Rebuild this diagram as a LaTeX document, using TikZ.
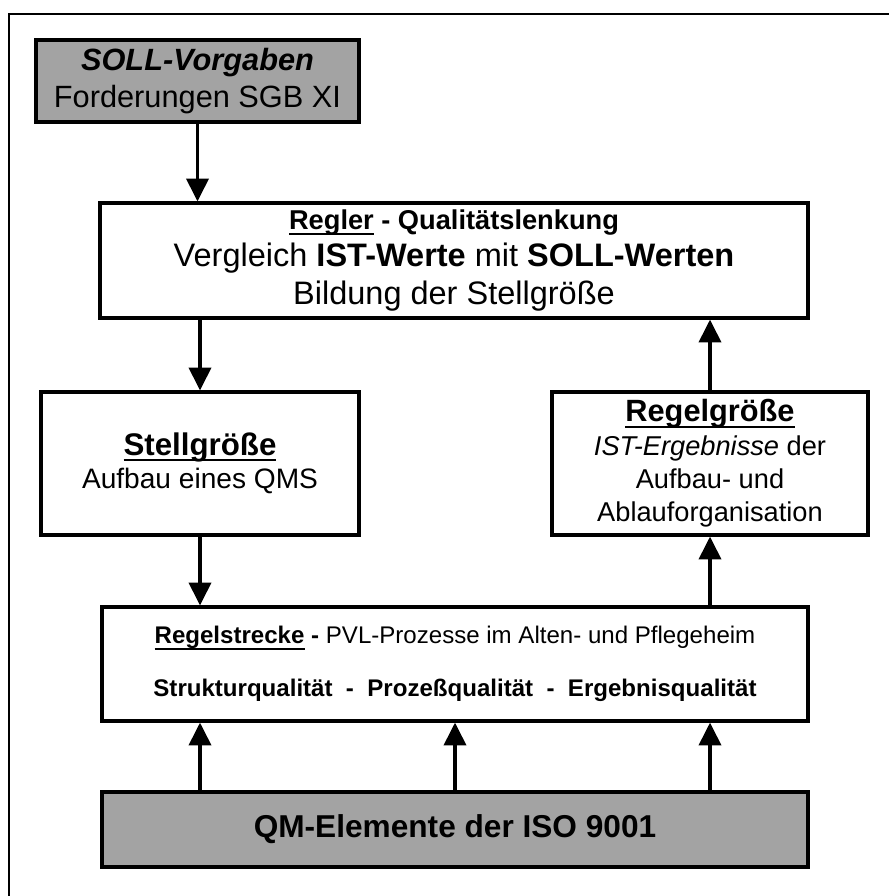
\documentclass[tikz,border=0pt]{standalone}
\usepackage{fontspec}
\setmainfont{Liberation Sans}
\usetikzlibrary{arrows.meta}
% Unterstreichung dicht unter der Grundlinie
\newcommand{\unterstr}[1]{\setbox0=\hbox{#1}\rlap{\rule[-3.4pt]{\wd0}{1.2pt}}\box0\relax}
\begin{document}
\begin{tikzpicture}[x=0.02cm,y=-0.02cm,line width=1.8pt,
	>={Triangle[length=13pt,width=12.5pt]},
	kasten/.style={draw,align=center,inner sep=0pt,font=\fontsize{16}{19}\selectfont},
	grau/.style={kasten,fill=black!36},
	pfeil/.style={->,line width=2.2pt}]
	\useasboundingbox (0,0) rectangle (889,896);
	\draw[line width=0.9pt] (9,896)--(9,14)--(889,14);
	% Kaesten
	\node[grau,minimum width=6.46cm,minimum height=1.64cm,font=\fontsize{17.5}{21}\selectfont] (soll) at (197.5,81)
		{\textbf{\textit{SOLL-Vorgaben}}\\ Forderungen SGB XI};
	\node[kasten,minimum width=14.16cm,minimum height=2.3cm,font=\fontsize{18.5}{21.5}\selectfont] (regler) at (454,260.5)
		{{\fontsize{15.5}{21.5}\selectfont\unterstr{\textbf{Regler}} \textbf{- Qualitätslenkung}}\\ Vergleich \textbf{IST-Werte} mit \textbf{SOLL-Werten}\\ Bildung der Stellgröße};
	\node[kasten,minimum width=6.36cm,minimum height=2.86cm] (stell) at (200,463.5)
		{{\fontsize{17.8}{19}\selectfont\unterstr{\textbf{Stellgröße}}}\\ Aufbau eines QMS};
	\node[kasten,minimum width=6.32cm,minimum height=2.86cm,font=\fontsize{15.5}{19}\selectfont] (regelgr) at (710,463.5)
		{{\fontsize{17.5}{19}\selectfont\unterstr{\textbf{Regelgröße}}}\\ \textit{IST-Ergebnisse} der\\ Aufbau- und\\ Ablauforganisation};
	\node[kasten,minimum width=14.12cm,minimum height=2.28cm,font=\fontsize{13.7}{30}\selectfont] (strecke) at (455,664)
		{\unterstr{\textbf{Regelstrecke}} \textbf{-} PVL-Prozesse im Alten- und Pflegeheim\\ \textbf{Strukturqualität~~-~~Prozeßqualität~~-~~Ergebnisqualität}};
	\node[grau,minimum width=14.12cm,minimum height=1.5cm,font=\fontsize{18}{22}\selectfont\bfseries] (qm) at (455,829.5)
		{QM-Elemente der ISO 9001};
	% Pfeile
	\draw[pfeil] (soll.south) -- (soll.south |- regler.north);
	\draw[pfeil] (regler.south -| stell) -- (stell.north);
	\draw[pfeil] (stell.south) -- (stell.south |- strecke.north);
	\draw[pfeil] (strecke.north -| regelgr) -- (regelgr.south);
	\draw[pfeil] (regelgr.north) -- (regelgr.north |- regler.south);
	\draw[pfeil] (qm.north -| stell) -- (strecke.south -| stell);
	\draw[pfeil] (qm.north) -- (strecke.south);
	\draw[pfeil] (qm.north -| regelgr) -- (strecke.south -| regelgr);
\end{tikzpicture}
\end{document}
